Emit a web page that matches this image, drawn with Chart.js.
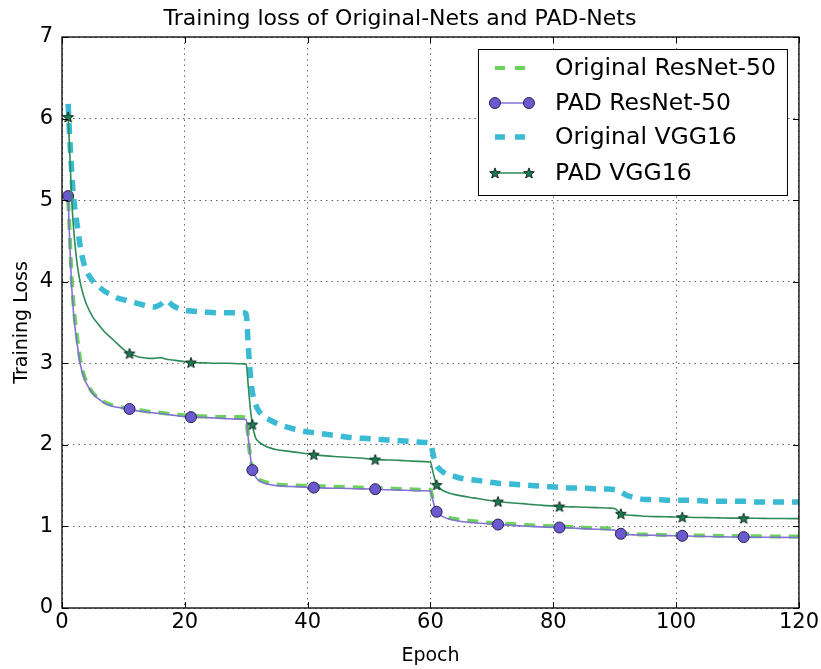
<!DOCTYPE html>
<html><head><meta charset="utf-8">
<script src="https://cdn.jsdelivr.net/npm/chart.js@4.4.0/dist/chart.umd.min.js"></script>
<style>html,body{margin:0;padding:0;background:#fff;}</style>
</head><body>
<canvas id="c" width="821" height="669"></canvas>
<script>
// ---------------- data ----------------
const epochs = [1, 1.2, 1.5, 1.7, 2, 2.5, 3, 3.5, 4,
  5, 6, 7, 8, 9, 10, 11, 12, 13, 14, 15, 16, 17, 18, 19, 20, 21,
  23, 25, 27, 29, 30,
  30.3, 30.6, 31, 31.5, 32,
  33, 34, 35,
  37, 39, 41, 43, 45, 47, 49, 51, 53, 55, 57, 59,
  60,
  60.3, 60.6, 61, 61.5, 62,
  63, 64, 65,
  67, 69, 71, 73, 75, 77, 79, 81, 83, 85, 87, 89,
  90,
  90.5, 91, 91.5, 92,
  93, 94, 95,
  97, 99, 101, 103, 105, 107, 109, 111, 113, 115, 117,
  120];

const originalResNet50 = [5.0, 4.7, 4.15, 3.9, 3.62, 3.3, 3.03, 2.87, 2.77,
  2.64, 2.57, 2.52, 2.49, 2.47, 2.455, 2.445, 2.43, 2.42, 2.41, 2.40, 2.395, 2.385, 2.375, 2.37, 2.36, 2.355,
  2.35, 2.345, 2.34, 2.34, 2.335,
  2.1, 1.88, 1.72, 1.63, 1.58,
  1.545, 1.525, 1.515,
  1.505, 1.50, 1.495, 1.49, 1.485, 1.48, 1.475, 1.47, 1.465, 1.46, 1.455, 1.45,
  1.45,
  1.36, 1.27, 1.19, 1.15, 1.13,
  1.105, 1.09, 1.08,
  1.065, 1.05, 1.04, 1.03, 1.02, 1.01, 1.005, 1.0, 0.993, 0.985, 0.98, 0.975,
  0.97,
  0.945, 0.925, 0.915, 0.91,
  0.905, 0.902, 0.90,
  0.897, 0.894, 0.892, 0.89, 0.887, 0.884, 0.882, 0.88, 0.879, 0.878, 0.877,
  0.876];

const padResNet50 = [5.05, 4.6, 4.05, 3.8, 3.52, 3.22, 2.98, 2.84, 2.75,
  2.63, 2.56, 2.51, 2.48, 2.46, 2.45, 2.44, 2.42, 2.41, 2.40, 2.39, 2.385, 2.375, 2.365, 2.355, 2.345, 2.34,
  2.335, 2.33, 2.32, 2.315, 2.31,
  2.1, 1.9, 1.69, 1.61, 1.565,
  1.53, 1.51, 1.50,
  1.49, 1.485, 1.476, 1.47, 1.468, 1.465, 1.46, 1.457, 1.45, 1.445, 1.44, 1.437,
  1.435,
  1.35, 1.26, 1.18, 1.14, 1.12,
  1.09, 1.075, 1.06,
  1.045, 1.035, 1.023, 1.015, 1.005, 0.998, 0.992, 0.987, 0.98, 0.973, 0.966, 0.96,
  0.955,
  0.93, 0.91, 0.905, 0.90,
  0.897, 0.895, 0.893,
  0.89, 0.887, 0.885, 0.88, 0.877, 0.874, 0.871, 0.869, 0.868, 0.867, 0.866,
  0.865];

const originalVGG16 = [6.18, 5.85, 5.45, 5.2, 4.95, 4.68, 4.42, 4.24, 4.13,
  4.01, 3.94, 3.88, 3.84, 3.80, 3.78, 3.76, 3.74, 3.72, 3.70, 3.69, 3.72, 3.77, 3.71, 3.67, 3.65, 3.64,
  3.63, 3.62, 3.62, 3.62, 3.61,
  3.25, 2.92, 2.65, 2.50, 2.42,
  2.34, 2.30, 2.26,
  2.21, 2.17, 2.15, 2.13, 2.11, 2.09, 2.08, 2.07, 2.06, 2.05, 2.04, 2.03,
  2.02,
  1.93, 1.83, 1.75, 1.70, 1.67,
  1.63, 1.61, 1.59,
  1.57, 1.55, 1.53, 1.52, 1.51, 1.50, 1.49, 1.48, 1.47, 1.47, 1.46, 1.46,
  1.45,
  1.44, 1.42, 1.40, 1.38,
  1.36, 1.34, 1.33,
  1.33, 1.32, 1.32, 1.32, 1.31, 1.31, 1.31, 1.31, 1.30, 1.30, 1.30,
  1.30];

const padVGG16 = [6.02, 5.7, 5.15, 4.85, 4.55, 4.2, 3.98, 3.83, 3.72,
  3.57, 3.47, 3.38, 3.31, 3.24, 3.17, 3.12, 3.09, 3.07, 3.06, 3.06, 3.07, 3.05, 3.04, 3.03, 3.02, 3.01,
  3.005, 3.0, 3.0, 2.995, 2.99,
  2.75, 2.5, 2.25, 2.09, 2.04,
  1.99, 1.96, 1.94,
  1.92, 1.90, 1.88, 1.865, 1.855, 1.845, 1.835, 1.82, 1.815, 1.81, 1.80, 1.795,
  1.79,
  1.70, 1.61, 1.51, 1.47, 1.44,
  1.41, 1.39, 1.375,
  1.35, 1.325, 1.305, 1.29, 1.28, 1.265, 1.255, 1.245, 1.24, 1.235, 1.23, 1.225,
  1.22,
  1.19, 1.155, 1.145, 1.14,
  1.135, 1.13, 1.125,
  1.12, 1.117, 1.114, 1.11, 1.108, 1.105, 1.102, 1.10, 1.10, 1.098, 1.097,
  1.096];

const markerEpochs = [1, 11, 21, 31, 41, 51, 61, 71, 81, 91, 101, 111];
const seriesNames = ['Original ResNet-50', 'PAD ResNet-50', 'Original VGG16', 'PAD VGG16'];
const xTickValues = [0, 20, 40, 60, 80, 100, 120];
const yTickValues = [0, 1, 2, 3, 4, 5, 6, 7];
const chartTitle = 'Training loss of Original-Nets and PAD-Nets';
const xAxisTitle = 'Epoch';
const yAxisTitle = 'Training Loss';

// ---------------- styles ----------------
const FONT = 'DejaVu Sans';
const C_ORES = '#6bd35b';
const C_PRES = '#8272d2';
const C_PRES_FILL = '#6a5acd';
const C_OVGG = '#3bbad4';
const C_PVGG = '#2e8b57';
const C_PVGG_FILL = '#1e7a54';

function makeStar(R) {
  const size = Math.ceil(R * 2 + 4);
  const cv = document.createElement('canvas');
  cv.width = size; cv.height = size;
  const g = cv.getContext('2d');
  const cx = size / 2, cy = size / 2 + 0.5, r = R * 0.42;
  g.beginPath();
  for (let i = 0; i < 10; i++) {
    const rad = (i % 2 === 0) ? R : r;
    const a = -Math.PI / 2 + i * Math.PI / 5;
    const px = cx + rad * Math.cos(a), py = cy + rad * Math.sin(a);
    if (i === 0) g.moveTo(px, py); else g.lineTo(px, py);
  }
  g.closePath();
  g.fillStyle = C_PVGG_FILL; g.fill();
  g.lineWidth = 1; g.strokeStyle = '#0b2a1b'; g.stroke();
  return cv;
}
const starImg = makeStar(5.6);

function pts(arr) { return epochs.map((e, i) => ({ x: e, y: arr[i] })); }
const isMarker = (ctx) => markerEpochs.includes(epochs[ctx.dataIndex]);

const datasets = [
  { label: seriesNames[0], data: pts(originalResNet50), borderColor: C_ORES, borderWidth: 4,
    borderDash: [11, 8], pointRadius: 0, order: 4, cubicInterpolationMode: 'monotone' },
  { label: seriesNames[1], data: pts(padResNet50), borderColor: C_PRES, borderWidth: 1.6,
    pointStyle: 'circle', pointRadius: (ctx) => isMarker(ctx) ? 5.5 : 0,
    pointBackgroundColor: C_PRES_FILL, pointBorderColor: '#2a2150', pointBorderWidth: 1,
    order: 3, cubicInterpolationMode: 'monotone' },
  { label: seriesNames[2], data: pts(originalVGG16), borderColor: C_OVGG, borderWidth: 5.5,
    borderDash: [11, 8], pointRadius: 0, order: 2, cubicInterpolationMode: 'monotone' },
  { label: seriesNames[3], data: pts(padVGG16), borderColor: C_PVGG, borderWidth: 1.6,
    pointStyle: starImg, pointRadius: (ctx) => isMarker(ctx) ? 6 : 0,
    order: 1, cubicInterpolationMode: 'monotone' }
];

// frame + inner ticks (matplotlib classic style)
const framePlugin = {
  id: 'frame',
  afterDatasetsDraw(chart) {
    const { ctx, chartArea: a, scales } = chart;
    ctx.save();
    ctx.strokeStyle = '#000';
    ctx.lineWidth = 1;
    xTickValues.forEach(v => {
      const px = Math.round(scales.x.getPixelForValue(v)) + 0.5;
      ctx.beginPath(); ctx.moveTo(px, a.bottom); ctx.lineTo(px, a.bottom - 6); ctx.stroke();
      ctx.beginPath(); ctx.moveTo(px, a.top); ctx.lineTo(px, a.top + 6); ctx.stroke();
    });
    yTickValues.forEach(v => {
      const py = Math.round(scales.y.getPixelForValue(v)) + 0.5;
      ctx.beginPath(); ctx.moveTo(a.left, py); ctx.lineTo(a.left + 6, py); ctx.stroke();
      ctx.beginPath(); ctx.moveTo(a.right, py); ctx.lineTo(a.right - 6, py); ctx.stroke();
    });
    ctx.lineWidth = 1.3;
    ctx.strokeRect(a.left, a.top, a.right - a.left, a.bottom - a.top);
    ctx.restore();
  }
};

// legend box inside the plot, upper right
const legendPlugin = {
  id: 'boxLegend',
  afterDraw(chart) {
    const { ctx, chartArea: a } = chart;
    const right = a.right - 12, top = a.top + 12;
    const w = 309, h = 146;
    const left = right - w;
    ctx.save();
    ctx.fillStyle = '#fff';
    ctx.fillRect(left, top, w, h);
    ctx.strokeStyle = '#000'; ctx.lineWidth = 1;
    ctx.strokeRect(left + 0.5, top + 0.5, w, h);
    const rowY = [19, 54, 88, 124];
    const sx0 = left + 17, sx1 = left + 51, tx = left + 77;
    ctx.font = '23.5px "' + FONT + '"';
    ctx.textBaseline = 'middle';
    ctx.textAlign = 'left';
    chart.data.datasets.forEach((ds, i) => {
      const y = top + rowY[i];
      ctx.save();
      ctx.strokeStyle = ds.borderColor;
      ctx.lineWidth = ds.borderWidth;
      if (ds.borderDash) ctx.setLineDash([10, 10]);
      ctx.beginPath(); ctx.moveTo(sx0, y); ctx.lineTo(ds.borderDash ? sx1 - 4 : sx1, y); ctx.stroke();
      ctx.restore();
      if (i === 1) {
        [sx0, sx1].forEach(x => {
          ctx.beginPath(); ctx.arc(x, y, 5.5, 0, Math.PI * 2);
          ctx.fillStyle = C_PRES_FILL; ctx.fill();
          ctx.strokeStyle = '#2a2150'; ctx.lineWidth = 1; ctx.stroke();
        });
      } else if (i === 3) {
        [sx0, sx1].forEach(x => ctx.drawImage(starImg, x - starImg.width / 2, y - starImg.height / 2));
      }
      ctx.fillStyle = '#000';
      ctx.fillText(ds.label, tx, y + 1);
    });
    ctx.restore();
  }
};

new Chart(document.getElementById('c'), {
  type: 'line',
  data: { datasets },
  options: {
    responsive: false,
    animation: false,
    devicePixelRatio: 1,
    layout: { padding: { left: 0, right: 21, top: 0, bottom: 0 } },
    plugins: {
      legend: { display: false },
      tooltip: { enabled: false },
      title: {
        display: true, text: chartTitle, color: '#000',
        font: { family: FONT, size: 22, weight: 'normal' },
        padding: { top: 6, bottom: 4.6 }
      }
    },
    elements: { line: { tension: 0 } },
    scales: {
      x: {
        type: 'linear', min: 0, max: 120,
        afterBuildTicks: (s) => { s.ticks = xTickValues.map(v => ({ value: v })); },
        afterFit: (s) => { s.height = 61; },
        ticks: { color: '#000', font: { family: FONT, size: 21 }, padding: 2, maxRotation: 0 },
        grid: { color: '#666', lineWidth: 1, drawTicks: false },
        border: { display: false, dash: [1.5, 4] },
        title: { display: true, text: xAxisTitle, color: '#000',
                 font: { family: FONT, size: 19 }, padding: { top: 0, bottom: 2 } }
      },
      y: {
        type: 'linear', min: 0, max: 7,
        afterBuildTicks: (s) => { s.ticks = yTickValues.map(v => ({ value: v })); },
        afterFit: (s) => { s.width = 62; },
        ticks: { color: '#000', font: { family: FONT, size: 21 }, padding: 9 },
        grid: { color: '#666', lineWidth: 1, drawTicks: false },
        border: { display: false, dash: [1.5, 4] },
        title: { display: true, text: yAxisTitle, color: '#000',
                 font: { family: FONT, size: 19 }, padding: { top: 11, bottom: 0 } }
      }
    }
  },
  plugins: [framePlugin, legendPlugin]
});
</script>
</body></html>
